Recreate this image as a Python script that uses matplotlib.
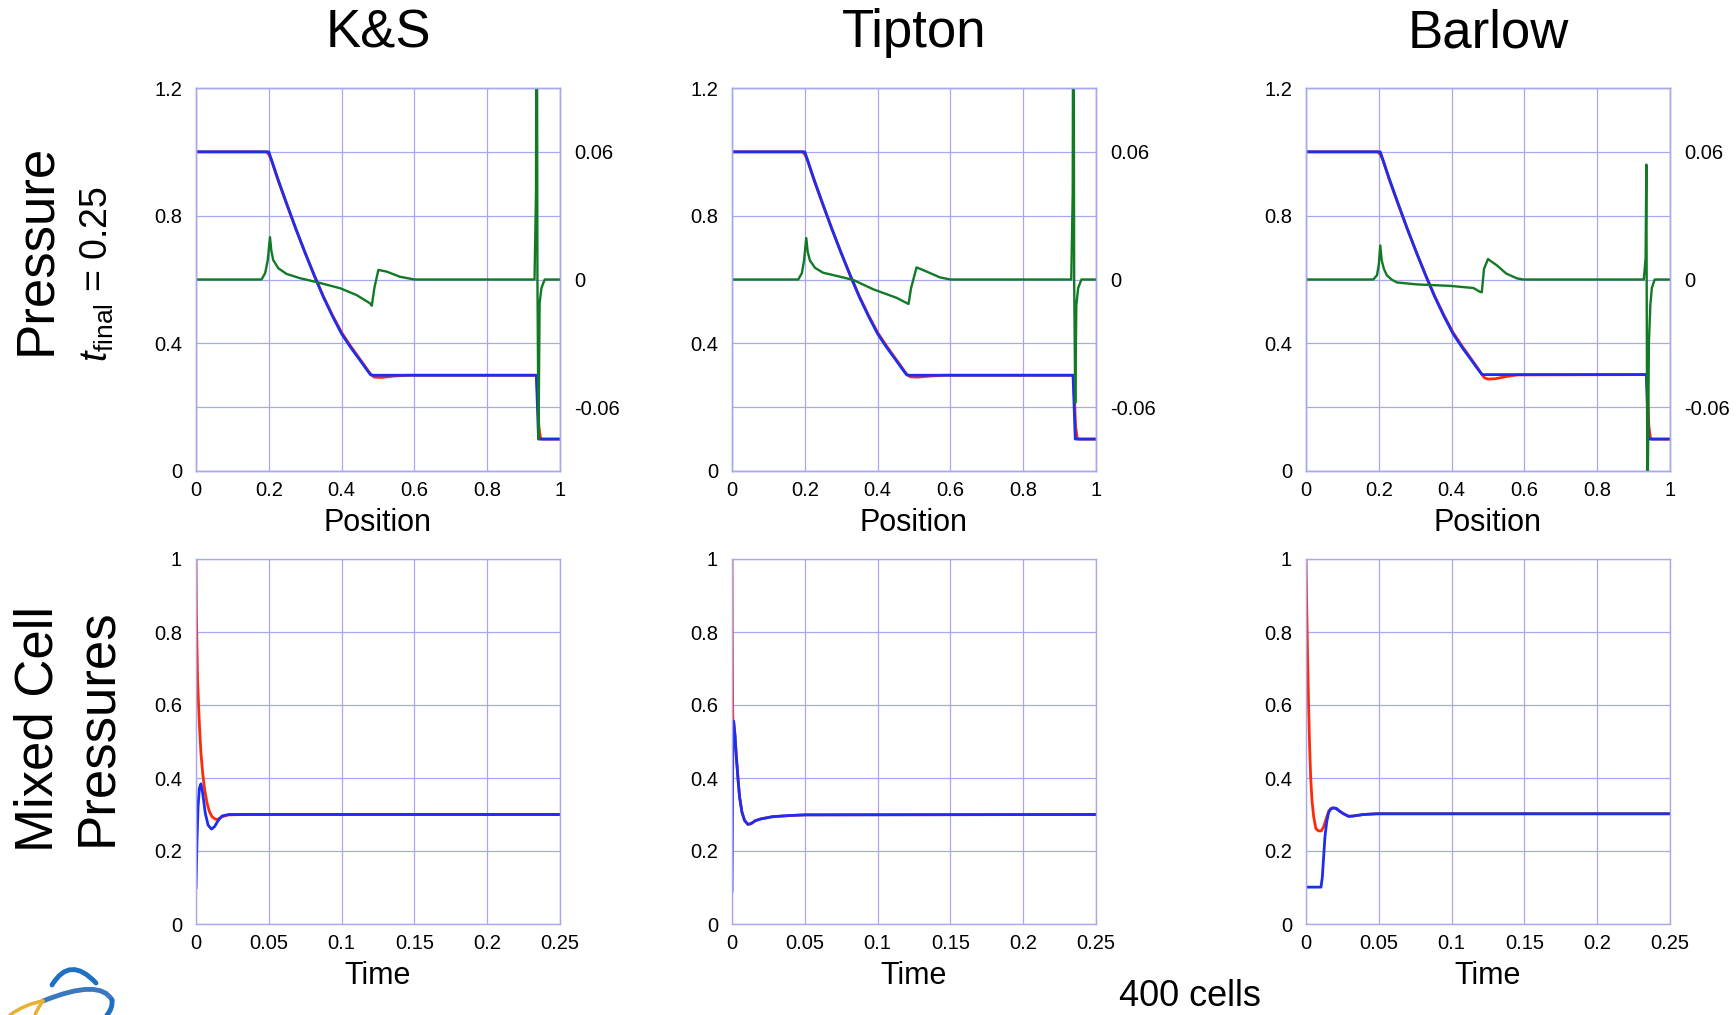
import matplotlib
matplotlib.use("Agg")
import matplotlib.pyplot as plt
from matplotlib.path import Path
from matplotlib.patches import PathPatch

plt.rcParams.update({
    "font.family": ["Liberation Sans", "DejaVu Sans"],
    "mathtext.fontset": "custom",
    "mathtext.rm": "Liberation Sans",
    "mathtext.it": "Liberation Sans:italic",
    "axes.edgecolor": "#a3a3f0", "axes.linewidth": 1.0,
})
C_RED, C_BLUE, C_GREEN, C_GRID = "#ff2a0a", "#1c2ef0", "#127a25", "#a8a8f2"

TITLES = ["K&S", "Tipton", "Barlow"]

# ---- top row: pressure vs position (left axis), difference (right axis) ----
ks_blue_x = [0, 0.2, 0.225, 0.25, 0.275, 0.30, 0.325, 0.35, 0.375, 0.40, 0.425, 0.45, 0.465, 0.48, 0.485, 0.935, 0.938, 0.941, 1.0]
ks_blue_p = [1.0, 1.0, 0.915, 0.835, 0.757, 0.683, 0.612, 0.545, 0.485, 0.43, 0.387, 0.348, 0.324, 0.301, 0.30, 0.30, 0.20, 0.10, 0.10]
ks_red_x = [0, 0.193, 0.2, 0.207, 0.225, 0.25, 0.275, 0.30, 0.325, 0.35, 0.375, 0.40, 0.425, 0.45, 0.465, 0.48, 0.49, 0.51, 0.54, 0.58,
            0.935, 0.938, 0.942, 0.946, 0.95, 1.0]
ks_red_p = [1.0, 1.0, 0.992, 0.975, 0.912, 0.833, 0.756, 0.683, 0.613, 0.547, 0.488, 0.434, 0.391, 0.351, 0.327, 0.303, 0.294, 0.293, 0.297, 0.30,
            0.30, 0.25, 0.14, 0.105, 0.10, 0.10]
ks_grn_x = [0, 0.180, 0.19, 0.197, 0.2033, 0.207, 0.212, 0.226, 0.249, 0.286, 0.333, 0.396, 0.441, 0.478, 0.483, 0.49, 0.501, 0.524, 0.56, 0.6,
            0.93, 0.934, 0.936, 0.938, 0.941, 0.944, 0.949, 0.958, 1.0]
ks_grn_d = [0, 0, 0.003, 0.009, 0.0199, 0.0135, 0.0092, 0.0053, 0.0026, 0.0006, -0.0013, -0.0041, -0.0073, -0.0112, -0.0123, -0.004, 0.0045, 0.0037, 0.0013, 0,
            0, 0.04, 0.2, 0.0, -0.075, -0.011, -0.004, 0, 0]

tp_blue_x = [0, 0.2, 0.225, 0.25, 0.275, 0.30, 0.325, 0.35, 0.375, 0.40, 0.425, 0.45, 0.465, 0.48, 0.485, 0.937, 0.940, 0.943, 1.0]
tp_blue_p = [1.0, 1.0, 0.915, 0.835, 0.757, 0.683, 0.612, 0.545, 0.485, 0.43, 0.387, 0.348, 0.324, 0.301, 0.30, 0.30, 0.20, 0.10, 0.10]
tp_red_x = [0, 0.193, 0.2, 0.207, 0.225, 0.25, 0.275, 0.30, 0.325, 0.35, 0.375, 0.40, 0.425, 0.45, 0.465, 0.48, 0.49, 0.51, 0.54, 0.58,
            0.937, 0.940, 0.944, 0.948, 0.952, 1.0]
tp_red_p = [1.0, 1.0, 0.992, 0.975, 0.912, 0.833, 0.756, 0.683, 0.613, 0.547, 0.488, 0.434, 0.391, 0.351, 0.327, 0.303, 0.295, 0.294, 0.297, 0.30,
            0.30, 0.25, 0.14, 0.105, 0.10, 0.10]
tp_grn_x = [0, 0.182, 0.192, 0.198, 0.204, 0.208, 0.214, 0.228, 0.25, 0.297, 0.333, 0.388, 0.452, 0.47, 0.485, 0.492, 0.507, 0.535, 0.571, 0.6,
            0.932, 0.936, 0.938, 0.940, 0.943, 0.946, 0.951, 0.96, 1.0]
tp_grn_d = [0, 0, 0.003, 0.009, 0.0195, 0.013, 0.009, 0.0055, 0.0032, 0.0013, -0.0002, -0.0046, -0.0086, -0.0102, -0.0115, -0.004, 0.0057, 0.0037, 0.001, 0,
            0, 0.04, 0.2, 0.0, -0.058, -0.012, -0.004, 0, 0]

bw_blue_x = [0, 0.204, 0.229, 0.254, 0.279, 0.304, 0.329, 0.354, 0.379, 0.404, 0.429, 0.454, 0.469, 0.483, 0.488, 0.935, 0.938, 0.941, 1.0]
bw_blue_p = [1.0, 1.0, 0.915, 0.835, 0.757, 0.683, 0.612, 0.545, 0.485, 0.43, 0.387, 0.348, 0.324, 0.303, 0.302, 0.302, 0.20, 0.10, 0.10]
bw_red_x = [0, 0.197, 0.204, 0.211, 0.229, 0.254, 0.279, 0.304, 0.329, 0.354, 0.379, 0.404, 0.429, 0.454, 0.469, 0.483, 0.49, 0.50, 0.52, 0.55, 0.58,
            0.935, 0.938, 0.942, 0.946, 0.95, 1.0]
bw_red_p = [1.0, 1.0, 0.992, 0.975, 0.912, 0.833, 0.756, 0.683, 0.613, 0.547, 0.488, 0.434, 0.391, 0.351, 0.327, 0.303, 0.292, 0.288, 0.289, 0.296, 0.301,
            0.302, 0.25, 0.14, 0.105, 0.10, 0.10]
bw_grn_x = [0, 0.185, 0.195, 0.2, 0.204, 0.208, 0.214, 0.222, 0.235, 0.25, 0.304, 0.396, 0.46, 0.478, 0.483, 0.489, 0.50, 0.524, 0.55, 0.58, 0.597,
            0.928, 0.933, 0.935, 0.938, 0.942, 0.946, 0.950, 0.958, 1.0]
bw_grn_d = [0, 0, 0.002, 0.007, 0.016, 0.009, 0.005, 0.002, 0.0, -0.0014, -0.0023, -0.003, -0.004, -0.0058, -0.006, 0.005, 0.0096, 0.0067, 0.0028, 0.0005, 0,
            0, 0.01, 0.054, -0.12, -0.03, -0.012, -0.004, 0, 0]

# ---- bottom row: mixed cell pressures vs time ----
ks_t_red = [0, 0.00023, 0.0007, 0.0011, 0.0018, 0.0025, 0.0034, 0.0046, 0.006, 0.0076, 0.0092, 0.011, 0.0133, 0.0151, 0.0179, 0.0225, 0.034, 0.25]
ks_p_red = [1.0, 0.87, 0.751, 0.669, 0.596, 0.533, 0.468, 0.413, 0.367, 0.331, 0.308, 0.294, 0.287, 0.287, 0.294, 0.299, 0.30, 0.30]
ks_t_blue = [0, 0.0007, 0.0014, 0.0023, 0.0034, 0.0046, 0.0064, 0.0083, 0.0106, 0.0128, 0.0151, 0.0179, 0.0225, 0.25]
ks_p_blue = [0.1, 0.23, 0.32, 0.372, 0.384, 0.358, 0.303, 0.271, 0.26, 0.267, 0.283, 0.296, 0.30, 0.30]

tp_t_red = [0, 0.0002, 0.00045, 0.0007, 0.0011, 0.002, 0.0029, 0.0041, 0.0052, 0.0068, 0.0086, 0.0109, 0.0131, 0.016, 0.0199, 0.0278, 0.039, 0.05, 0.25]
tp_p_red = [1.0, 0.777, 0.593, 0.547, 0.556, 0.519, 0.463, 0.399, 0.348, 0.307, 0.284, 0.273, 0.275, 0.283, 0.288, 0.294, 0.297, 0.299, 0.30]
tp_t_blue = [0, 0.0002, 0.00045, 0.0007, 0.0011, 0.002, 0.0029, 0.0041, 0.0052, 0.0068, 0.0086, 0.0109, 0.0131, 0.016, 0.0199, 0.0278, 0.039, 0.05, 0.25]
tp_p_blue = [0.09, 0.224, 0.408, 0.537, 0.556, 0.519, 0.463, 0.399, 0.348, 0.307, 0.284, 0.273, 0.275, 0.283, 0.288, 0.294, 0.297, 0.299, 0.30]

bw_t_red = [0, 0.0005, 0.0011, 0.0018, 0.0025, 0.0032, 0.0041, 0.0053, 0.0068, 0.0087, 0.0105, 0.0121, 0.0139, 0.0158, 0.0178, 0.0201,
            0.0231, 0.0258, 0.0292, 0.0326, 0.0395, 0.0486, 0.25]
bw_p_red = [1.0, 0.87, 0.733, 0.595, 0.485, 0.403, 0.339, 0.293, 0.261, 0.255, 0.255, 0.266, 0.289, 0.311, 0.318, 0.317,
            0.309, 0.302, 0.295, 0.296, 0.30, 0.302, 0.302]
bw_t_blue = [0, 0.0103, 0.0112, 0.0121, 0.013, 0.0142, 0.0155, 0.0171, 0.019, 0.0208, 0.0231, 0.0258, 0.0292, 0.0326, 0.0395, 0.0486, 0.25]
bw_p_blue = [0.101, 0.101, 0.128, 0.183, 0.238, 0.279, 0.305, 0.316, 0.318, 0.317, 0.309, 0.302, 0.295, 0.296, 0.30, 0.302, 0.302]

TOP = [(ks_red_x, ks_red_p, ks_blue_x, ks_blue_p, ks_grn_x, ks_grn_d),
       (tp_red_x, tp_red_p, tp_blue_x, tp_blue_p, tp_grn_x, tp_grn_d),
       (bw_red_x, bw_red_p, bw_blue_x, bw_blue_p, bw_grn_x, bw_grn_d)]
BOT = [(ks_t_red, ks_p_red, ks_t_blue, ks_p_blue),
       (tp_t_red, tp_p_red, tp_t_blue, tp_p_blue),
       (bw_t_red, bw_p_red, bw_t_blue, bw_p_blue)]

W, H = 1736, 1015
fig = plt.figure(figsize=(W / 100, H / 100), dpi=100)

COL_LEFT = [196, 732, 1306]
AX_W = 364
TOP_Y = (88, 471)
BOT_Y = (559, 924)
TICK_FS = 14.5

def fx(px): return px / W
def fy(py): return 1 - py / H

def style(ax):
    ax.grid(True, color=C_GRID, lw=0.9)
    ax.set_axisbelow(True)
    ax.tick_params(axis="y", length=0, labelsize=TICK_FS, pad=10)
    ax.tick_params(axis="x", length=0, labelsize=TICK_FS, pad=7)
    for s in ax.spines.values():
        s.set_color(C_GRID)

for i in range(3):
    x0 = COL_LEFT[i]
    # top panel
    ax = fig.add_axes([fx(x0), fy(TOP_Y[1]), fx(AX_W), (TOP_Y[1] - TOP_Y[0]) / H])
    rx, rp, bx, bp, gx, gd = TOP[i]
    ax.plot(rx, rp, color=C_RED, lw=2.0)
    ax.plot(bx, bp, color=C_BLUE, lw=2.0)
    ax.set_xlim(0, 1); ax.set_ylim(0, 1.2)
    ax.set_xticks([0, 0.2, 0.4, 0.6, 0.8, 1.0])
    ax.set_xticklabels(["0", "0.2", "0.4", "0.6", "0.8", "1"])
    ax.set_yticks([0, 0.2, 0.4, 0.6, 0.8, 1.0, 1.2])
    ax.set_yticklabels(["0", "", "0.4", "", "0.8", "", "1.2"])
    style(ax)
    ax2 = ax.twinx()
    ax2.plot(gx, gd, color=C_GREEN, lw=1.7)
    ax2.set_ylim(-0.09, 0.09)
    ax2.set_yticks([-0.06, 0, 0.06])
    ax2.set_yticklabels(["-0.06", "0", "0.06"])
    ax2.tick_params(length=0, labelsize=TICK_FS, pad=10)
    for s in ax2.spines.values():
        s.set_color(C_GRID)
    cx = fx(x0 + AX_W / 2)
    fig.text(cx, fy(33), TITLES[i], ha="center", va="center", fontsize=38)
    fig.text(cx, fy(523), "Position", ha="center", va="center", fontsize=22)

    # bottom panel
    ax = fig.add_axes([fx(x0), fy(BOT_Y[1]), fx(AX_W), (BOT_Y[1] - BOT_Y[0]) / H])
    tr, pr, tb, pb = BOT[i]
    ax.plot(tr, pr, color=C_RED, lw=2.0)
    ax.plot(tb, pb, color=C_BLUE, lw=2.0)
    ax.set_xlim(0, 0.25); ax.set_ylim(0, 1)
    ax.set_xticks([0, 0.05, 0.1, 0.15, 0.2, 0.25])
    ax.set_xticklabels(["0", "0.05", "0.1", "0.15", "0.2", "0.25"])
    ax.set_yticks([0, 0.2, 0.4, 0.6, 0.8, 1.0])
    ax.set_yticklabels(["0", "0.2", "0.4", "0.6", "0.8", "1"])
    style(ax)
    fig.text(cx, fy(976), "Time", ha="center", va="center", fontsize=22)

fig.text(fx(36), fy(249), "Pressure", rotation=90, ha="center", va="center", fontsize=38)
fig.text(fx(97), fy(274), r"$t_{\mathrm{final}}$ = 0.25", rotation=90, ha="center", va="center", fontsize=27)
fig.text(fx(39), fy(729), "Mixed Cell", rotation=90, ha="center", va="center", fontsize=38)
fig.text(fx(97), fy(727), "Pressures", rotation=90, ha="center", va="center", fontsize=38)
fig.text(fx(1190), fy(997), "400 cells", ha="center", va="center", fontsize=26)

# partial logo at lower left (cropped by the slide edge)
def curve(pts, color, lw):
    verts = [(fx(x), fy(y)) for x, y in pts]
    codes = [Path.MOVETO] + [Path.CURVE3] * (len(pts) - 1)
    fig.add_artist(PathPatch(Path(verts, codes), fill=False, edgecolor=color, lw=lw,
                             transform=fig.transFigure, capstyle="round"))

curve([(52, 985), (70, 955), (96, 983)], "#1f6fc4", 3.5)
curve([(43, 1001), (100, 978), (112, 1000)], "#3a78c0", 3.5)
curve([(112, 1000), (113, 1008), (107, 1015)], "#1f6fc4", 3.5)
curve([(10, 1015), (25, 1004), (43, 1001)], "#e8b030", 2.5)
curve([(43, 1001), (37, 1009), (35, 1015)], "#e8b030", 2.5)

fig.savefig("out.png", dpi=100)
